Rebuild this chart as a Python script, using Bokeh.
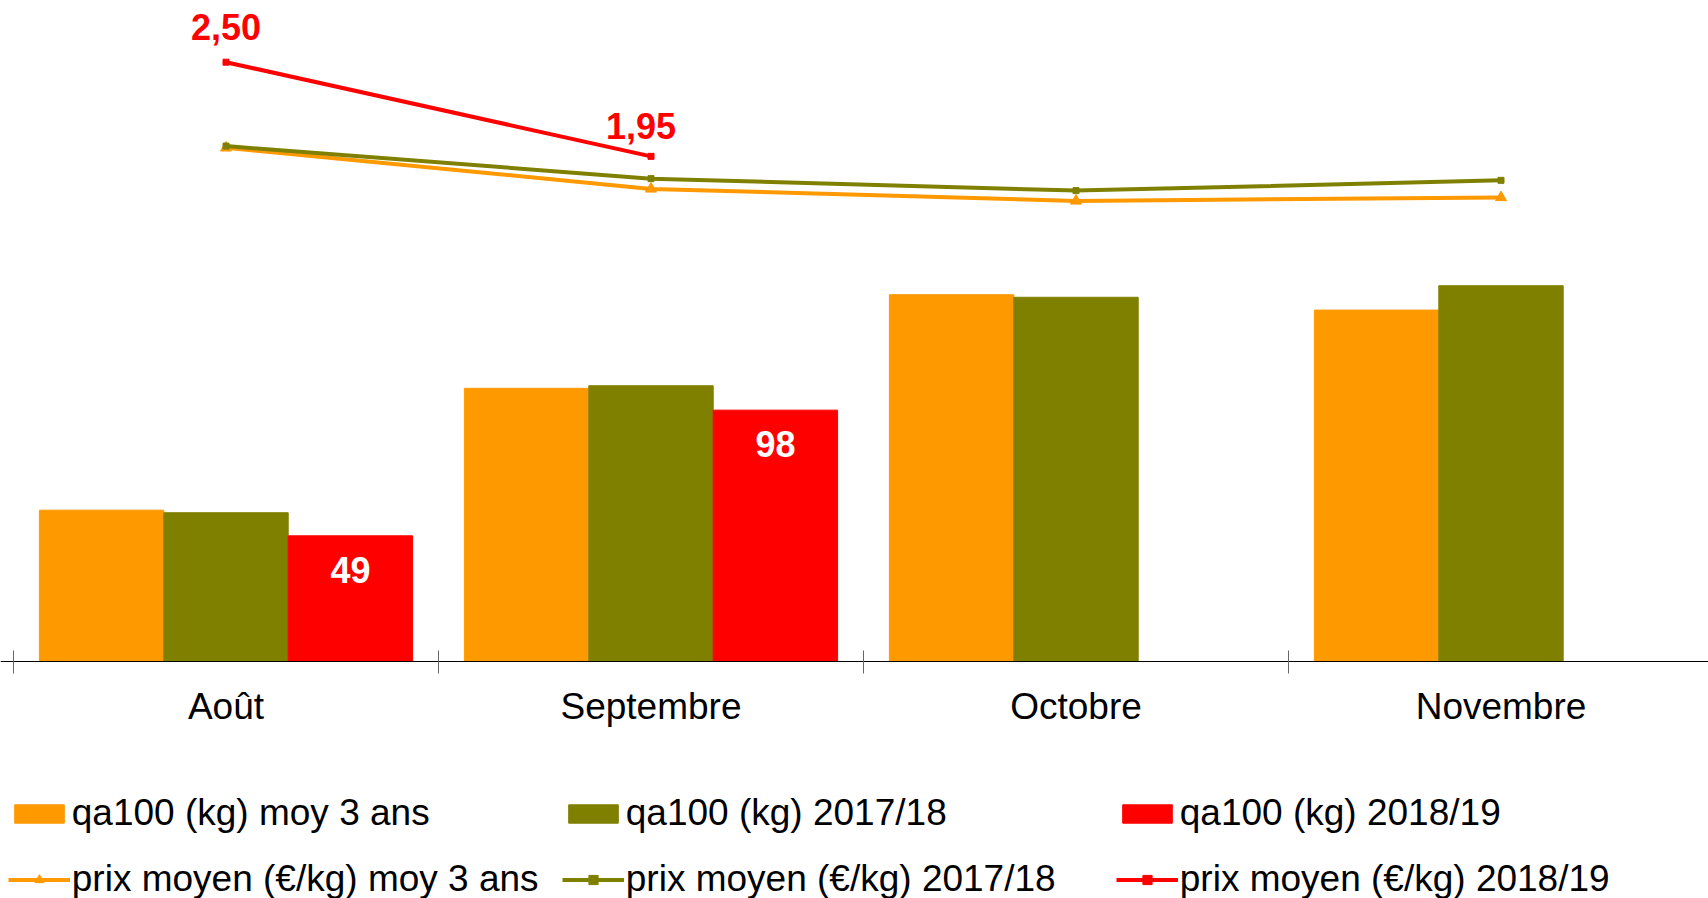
import numpy as np
from bokeh.plotting import figure
from bokeh.models import (Range1d, FixedTicker, ColumnDataSource, Legend, LegendItem,
                          LabelSet, CDSView, IndexFilter)
from bokeh.transform import dodge
from bokeh.embed import file_html
from bokeh.resources import INLINE
from bokeh.core.properties import value

# ---- data ----
months = ["Août", "Septembre", "Octobre", "Novembre"]
qa_moy3 = [59, 106.5, 143, 137]
qa_1718 = [58, 107.5, 142, 146.5]
qa_1819 = [49, 98]
prix_moy3 = [2.00, 1.76, 1.69, 1.71]
prix_1718 = [2.01, 1.82, 1.75, 1.81]
prix_1819 = [2.50, 1.95]
qa_1819_labels = ["49", "98"]
prix_1819_labels = ["2,50", "1,95"]

series_names = ["qa100 (kg) moy 3 ans", "qa100 (kg) 2017/18", "qa100 (kg) 2018/19",
                "prix moyen (€/kg) moy 3 ans", "prix moyen (€/kg) 2017/18",
                "prix moyen (€/kg) 2018/19"]

ORANGE = "#FF9900"
GREEN = "#808000"
RED = "#FF0000"
FONT = "Liberation Sans"

n = len(months)
centers = [i + 0.5 for i in range(n)]
bounds = [float(i) for i in range(n + 1)]

src = ColumnDataSource(dict(x=centers, qa_moy3=qa_moy3, qa_1718=qa_1718,
                            prix_moy3=prix_moy3, prix_1718=prix_1718))
src19 = ColumnDataSource(dict(x=centers[:len(qa_1819)], qa=qa_1819, prix=prix_1819,
                              qlab=qa_1819_labels, plab=prix_1819_labels))

W = 0.2927
CAT_PX = 425.0
BASE_Y = 661.0     # page row of the zero line
QA_PX = 2.565      # px per kg
PR_PX = 171.23     # px per euro
PR_MIN = -1.0
H = 898

p = figure(width=1708, height=H, output_backend="svg", toolbar_location=None,
           x_range=Range1d(-13 / CAT_PX, 1695 / CAT_PX),
           y_range=Range1d(-(H - BASE_Y) / QA_PX, BASE_Y / QA_PX),
           y_axis_location=None, min_border_left=0, min_border_right=0,
           min_border_top=0, min_border_bottom=0)
p.extra_y_ranges = {"prix": Range1d(PR_MIN - (H - BASE_Y) / PR_PX, PR_MIN + BASE_Y / PR_PX)}
p.outline_line_color = None
p.xgrid.visible = False
p.ygrid.visible = False
p.background_fill_color = "white"
p.border_fill_color = "white"

ax = p.xaxis[0]
ax.fixed_location = 0
ax.ticker = FixedTicker(ticks=centers, minor_ticks=bounds)
ax.major_label_overrides = {c: m for c, m in zip(centers, months)}
ax.major_tick_in = 0
ax.major_tick_out = 0
ax.minor_tick_in = 11
ax.minor_tick_out = 12
ax.minor_tick_line_color = "#666666"
ax.axis_line_color = "black"
ax.axis_line_width = 1
ax.major_label_standoff = 12
ax.major_label_text_font = FONT
ax.major_label_text_font_size = "37px"
ax.major_label_text_color = "black"

# bars
b1 = p.vbar(x=dodge("x", -W), top="qa_moy3", width=W, source=src,
            fill_color=ORANGE, line_color=ORANGE)
b2 = p.vbar(x="x", top="qa_1718", width=W, source=src,
            fill_color=GREEN, line_color=GREEN)
b3 = p.vbar(x=dodge("x", W), top="qa", width=W, source=src19,
            fill_color=RED, line_color=RED)

# lines
l1 = p.line(x="x", y="prix_moy3", source=src, y_range_name="prix",
            line_color=ORANGE, line_width=4)
m1 = p.scatter(x="x", y="prix_moy3", source=src, y_range_name="prix",
               marker="triangle", size=11, fill_color=ORANGE, line_color=ORANGE)
l2 = p.line(x="x", y="prix_1718", source=src, y_range_name="prix",
            line_color=GREEN, line_width=4)
m2 = p.scatter(x="x", y="prix_1718", source=src, y_range_name="prix",
               marker="square", size=6, fill_color=GREEN, line_color=GREEN)
l3 = p.line(x="x", y="prix", source=src19, y_range_name="prix",
            line_color=RED, line_width=4)
m3 = p.scatter(x="x", y="prix", source=src19, y_range_name="prix",
               marker="square", size=6, fill_color=RED, line_color=RED)

# labels on red bars
p.add_layout(LabelSet(x=dodge("x", W), y="qa", text="qlab", source=src19,
                      text_align="center", text_baseline="alphabetic", y_offset=-47,
                      text_color="white", text_font=value(FONT),
                      text_font_size="36px", text_font_style="bold"))

# labels on red line
for idx, xo, yo in [(0, 0, -35), (1, -10, -30)]:
    p.text(x="x", y="prix", text="plab", source=src19, y_range_name="prix",
           view=CDSView(filter=IndexFilter([idx])),
           text_align="center", text_baseline="alphabetic",
           x_offset=xo, y_offset=yo, text_color=RED,
           text_font=value(FONT), text_font_size="36px", text_font_style="bold")


def make_legend(items, loc):
    lg = Legend(items=items, orientation="horizontal")
    lg.glyph_width = 62
    lg.glyph_height = 23
    lg.label_standoff = 2
    lg.label_width = 469
    lg.label_height = 23
    lg.spacing = 21
    lg.padding = 0
    lg.margin = 0
    lg.border_line_alpha = 0
    lg.background_fill_alpha = 0
    lg.label_text_font = FONT
    lg.label_text_font_size = "37px"
    lg.label_text_color = "black"
    lg.location = loc
    return lg


leg1 = make_legend([
    LegendItem(label=series_names[0], renderers=[b1]),
    LegendItem(label=series_names[1], renderers=[b2]),
    LegendItem(label=series_names[2], renderers=[b3]),
], (7.8, 64))
leg2 = make_legend([
    LegendItem(label=series_names[3], renderers=[l1, m1]),
    LegendItem(label=series_names[4], renderers=[l2, m2]),
    LegendItem(label=series_names[5], renderers=[l3, m3]),
], (7.8, -2))
p.add_layout(leg1, "center")
p.add_layout(leg2, "center")

open("out.html", "w").write(file_html(p, INLINE))
